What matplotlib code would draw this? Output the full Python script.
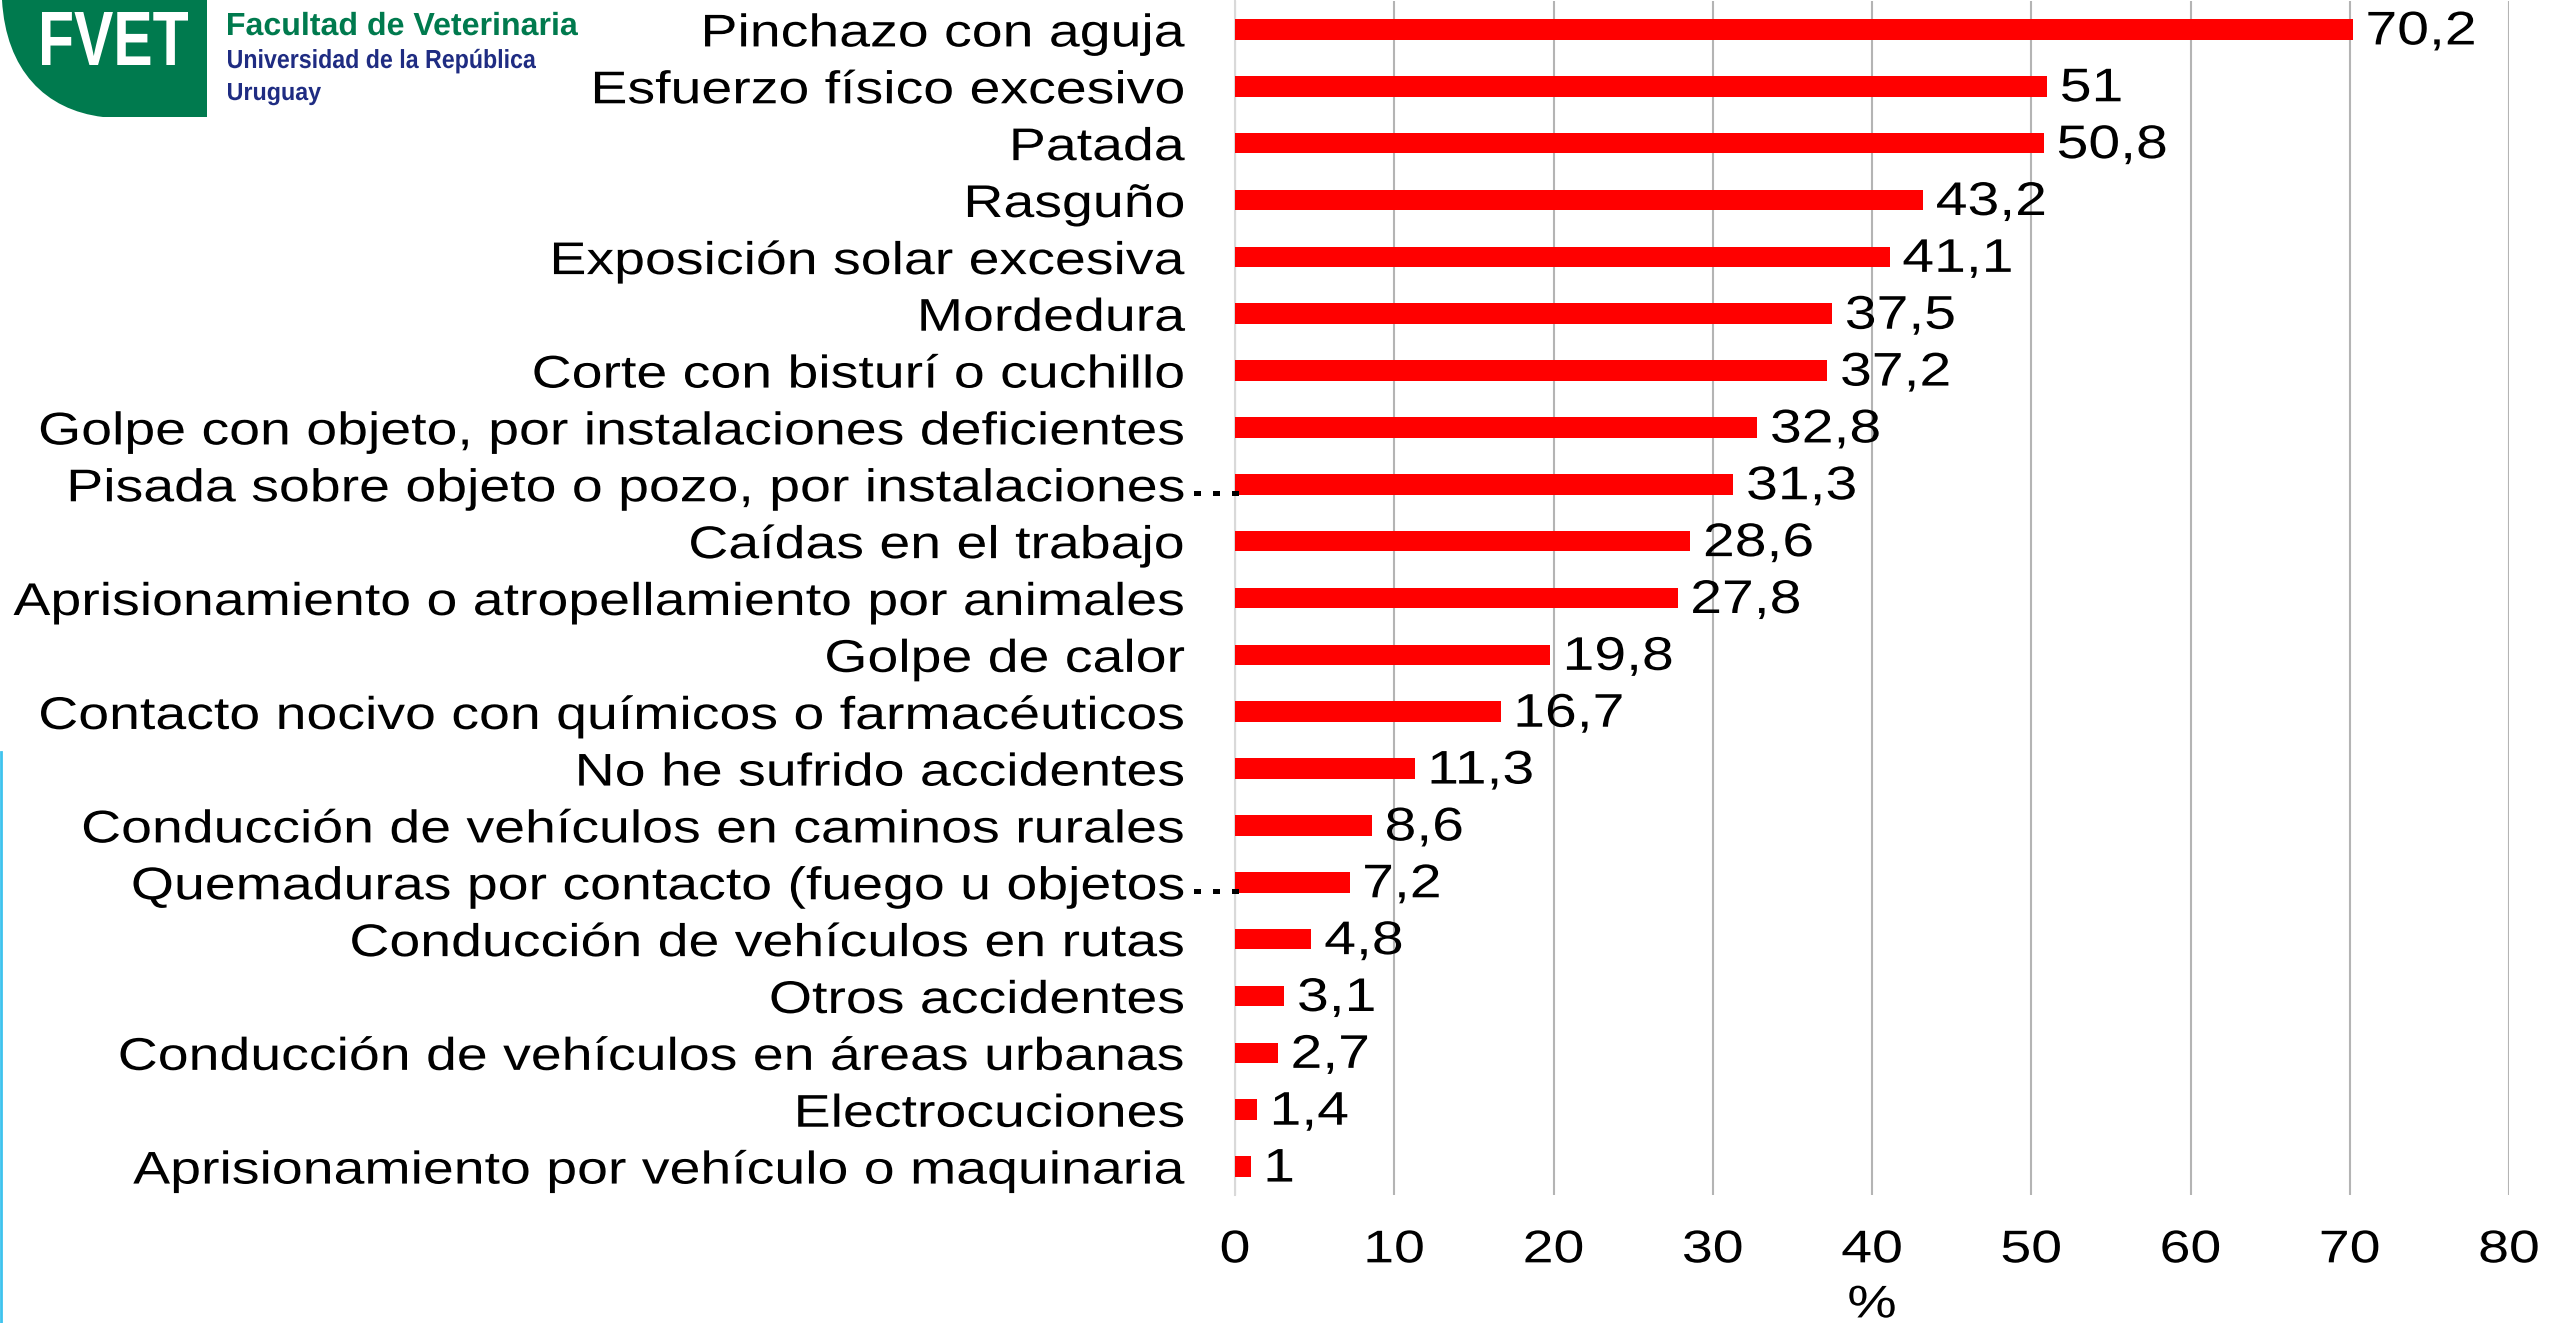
import matplotlib
matplotlib.use("Agg")
import matplotlib.pyplot as plt
from matplotlib.path import Path
from matplotlib.patches import PathPatch
from matplotlib.textpath import TextPath
from matplotlib.font_manager import FontProperties
from matplotlib.transforms import Affine2D
from matplotlib.patheffects import AbstractPathEffect

plt.rcParams['font.family'] = ['Liberation Sans', 'DejaVu Sans']

# datos (de arriba hacia abajo)
categorias = [
    "Pinchazo con aguja",
    "Esfuerzo físico excesivo",
    "Patada",
    "Rasguño",
    "Exposición solar excesiva",
    "Mordedura",
    "Corte con bisturí o cuchillo",
    "Golpe con objeto, por instalaciones deficientes",
    "Pisada sobre objeto o pozo, por instalaciones",
    "Caídas en el trabajo",
    "Aprisionamiento o atropellamiento por animales",
    "Golpe de calor",
    "Contacto nocivo con químicos o farmacéuticos",
    "No he sufrido accidentes",
    "Conducción de vehículos en caminos rurales",
    "Quemaduras por contacto (fuego u objetos",
    "Conducción de vehículos en rutas",
    "Otros accidentes",
    "Conducción de vehículos en áreas urbanas",
    "Electrocuciones",
    "Aprisionamiento por vehículo o maquinaria",
]
porcentajes = [70.2, 51, 50.8, 43.2, 41.1, 37.5, 37.2, 32.8, 31.3, 28.6, 27.8,
               19.8, 16.7, 11.3, 8.6, 7.2, 4.8, 3.1, 2.7, 1.4, 1]
truncadas = [8, 15]  # etiquetas cortadas con "..."
ticks_x = [0, 10, 20, 30, 40, 50, 60, 70, 80]


# el texto del original aparece estirado en horizontal
class Estirar(AbstractPathEffect):
    def __init__(self, sx, ancla):
        super().__init__()
        self.sx = sx
        self.ancla = ancla

    def draw_path(self, renderer, gc, tpath, affine, rgbFace=None):
        bb = tpath.get_extents(affine)
        x = {'left': bb.x0, 'right': bb.x1, 'center': (bb.x0 + bb.x1) / 2}[self.ancla]
        affine = affine + Affine2D().translate(-x, 0).scale(self.sx, 1).translate(x, 0)
        renderer.draw_path(gc, tpath, affine, rgbFace)


SX = 1.21

W, H = 2552, 1323
fig = plt.figure(figsize=(W / 100, H / 100), dpi=100)
fig.patch.set_facecolor('white')

# ejes en coordenadas de pixel
left, right, top, bottom = 1235, 2509, 1, 1195
ax = fig.add_axes([left / W, 1 - bottom / H, (right - left) / W, (bottom - top) / H])

y = list(range(len(categorias)))
ax.barh(y, porcentajes, height=0.36, color='#FF0000', zorder=3)

ax.set_xlim(0, 80)
ax.set_ylim(len(categorias) - 0.5, -0.5)
ax.set_xticks(ticks_x)
ax.set_xticklabels([str(t) for t in ticks_x], fontsize=33)
ax.set_yticks(y)
ax.set_yticklabels(categorias, fontsize=33)
ax.tick_params(axis='y', length=0, pad=36)
ax.tick_params(axis='x', length=0, pad=24)
xl = ax.set_xlabel('%', fontsize=33, labelpad=8)
xl.set_path_effects([Estirar(SX, 'center')])

for lbl in ax.get_yticklabels():
    lbl.set_path_effects([Estirar(SX, 'right')])
for lbl in ax.get_xticklabels():
    lbl.set_path_effects([Estirar(SX, 'center')])

ax.grid(axis='x', color='#B4B4B4', linewidth=1.5)
ax.set_axisbelow(True)
for s in ['top', 'right', 'bottom']:
    ax.spines[s].set_visible(False)
ax.spines['left'].set_color('#D9D9D9')
ax.spines['left'].set_linewidth(1.5)
ax.spines['left'].set_zorder(2)


def fmt(v):
    return ('%g' % v).replace('.', ',')


for yi, v in zip(y, porcentajes):
    t = ax.annotate(fmt(v), xy=(v, yi), xytext=(13, -3), textcoords='offset pixels',
                    ha='left', va='center', fontsize=34, color='black')
    t.set_path_effects([Estirar(SX, 'left')])

for i in truncadas:
    t = ax.annotate('...', xy=(0, i), xycoords=('axes fraction', 'data'),
                    xytext=(-45, 0), textcoords='offset pixels',
                    ha='left', va='center', fontsize=33, color='black')
    t.set_path_effects([Estirar(1.5, 'left')])

# capa superior para el logo y la linea azul
ov = fig.add_axes([0, 0, 1, 1], zorder=5)
ov.set_xlim(0, W)
ov.set_ylim(H, 0)
ov.axis('off')
ov.patch.set_alpha(0)

ov.plot([1, 1], [752, H], color='#3EC3EE', linewidth=2)

verde = '#007A4E'
azul = '#1F2C82'
hoja = Path([(2, 0), (207, 0), (207, 117), (103, 117),
             (45, 110), (6, 70), (2, 0), (2, 0)],
            [Path.MOVETO, Path.LINETO, Path.LINETO, Path.LINETO,
             Path.CURVE4, Path.CURVE4, Path.CURVE4, Path.CLOSEPOLY])
ov.add_patch(PathPatch(hoja, facecolor=verde, edgecolor='none'))


def texto_ajustado(s, x0, x1, ytop, ybase, color, peso='bold'):
    fp = FontProperties(family='Liberation Sans', weight=peso)
    tp = TextPath((0, 0), s, size=100, prop=fp)
    cap = TextPath((0, 0), 'H', size=100, prop=fp).get_extents().height
    ext = tp.get_extents()
    sx = (x1 - x0) / ext.width
    sy = (ybase - ytop) / cap
    tr = Affine2D().translate(-ext.x0, 0).scale(sx, -sy).translate(x0, ybase)
    ov.add_patch(PathPatch(tr.transform_path(tp), facecolor=color, edgecolor='none'))


texto_ajustado('FVET', 42, 188, 12, 65, 'white')
texto_ajustado('Facultad de Veterinaria', 228, 578, 13, 35, verde)
texto_ajustado('Universidad de la República', 228, 536, 50, 68, azul)
texto_ajustado('Uruguay', 228, 321, 83, 100, azul)

fig.savefig('out.png', dpi=100, facecolor='white')
